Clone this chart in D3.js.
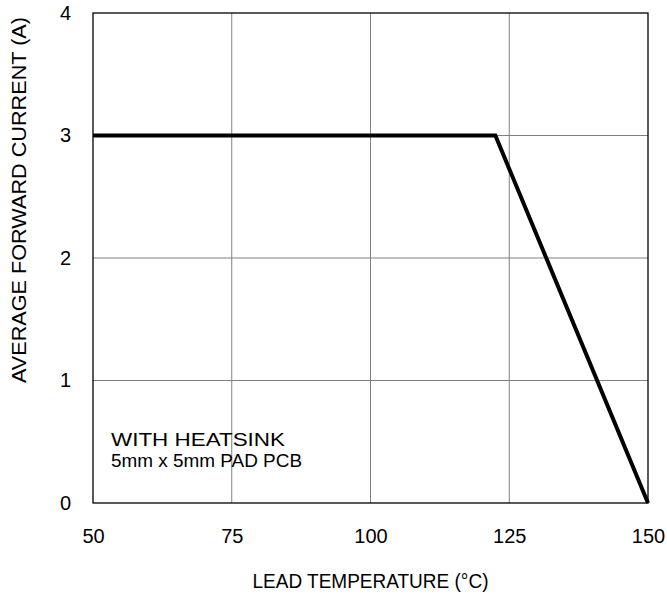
<!DOCTYPE html>
<html>
<head>
<meta charset="utf-8">
<script src="https://cdn.jsdelivr.net/npm/d3@7"></script>
<style>
  body { margin: 0; background: #fff; }
  text { font-family: "Liberation Sans", Arial, sans-serif; fill: #000; }
</style>
</head>
<body>
<div id="main"></div>
<script>
var margin = {top: 13, right: 19, bottom: 92, left: 93};
var width = 667 - margin.left - margin.right;
var height = 595 - margin.top - margin.bottom;

// derating curve
var tempC = [50, 122.5, 150];
var currentA = [3, 3, 0];
var xTicks = [50, 75, 100, 125, 150];
var yTicks = [0, 1, 2, 3, 4];
var note = ["WITH HEATSINK", "5mm x 5mm PAD PCB"];
var noteLen = [174, 191];

var svg = d3.select("#main")
  .append("svg")
  .attr("width", 667)
  .attr("height", 595)
  .append("g")
  .attr("transform", "translate(" + margin.left + "," + margin.top + ")");

var x = d3.scaleLinear().domain([50, 150]).range([0, width]);
var y = d3.scaleLinear().domain([0, 4]).range([height, 0]);

// grid
svg.selectAll(".vgrid")
  .data(xTicks.slice(1, -1))
  .enter()
  .append("line")
  .attr("x1", d => x(d)).attr("x2", d => x(d))
  .attr("y1", 0).attr("y2", height)
  .style("stroke", "#808080")
  .style("stroke-width", 1);

svg.selectAll(".hgrid")
  .data(yTicks.slice(1, -1))
  .enter()
  .append("line")
  .attr("x1", 0).attr("x2", width)
  .attr("y1", d => y(d)).attr("y2", d => y(d))
  .style("stroke", "#808080")
  .style("stroke-width", 1);

// frame
svg.append("rect")
  .attr("x", 0).attr("y", 0)
  .attr("width", width).attr("height", height)
  .style("fill", "none")
  .style("stroke", "#000")
  .style("stroke-width", 1.3);

// axes (labels only)
var xAxis = svg.append("g")
  .attr("transform", "translate(0," + height + ")")
  .call(d3.axisBottom(x).tickValues(xTicks).tickFormat(d3.format("d")).tickSize(0).tickPadding(26));
xAxis.select(".domain").remove();
xAxis.selectAll("text").style("font-size", "20px").style("font-family", "Liberation Sans, Arial, sans-serif");

var yAxis = svg.append("g")
  .call(d3.axisLeft(y).tickValues(yTicks).tickFormat(d3.format("d")).tickSize(0).tickPadding(22));
yAxis.select(".domain").remove();
yAxis.selectAll("text").style("font-size", "20px").style("font-family", "Liberation Sans, Arial, sans-serif");

// curve
svg.append("path")
  .datum(tempC.map((t, i) => [t, currentA[i]]))
  .attr("d", d3.line().x(d => x(d[0])).y(d => y(d[1])))
  .style("fill", "none")
  .style("stroke", "#000")
  .style("stroke-width", 4)
  .style("stroke-linejoin", "miter");

// annotation
svg.selectAll(".note")
  .data(note)
  .enter()
  .append("text")
  .attr("x", 18)
  .attr("y", (d, i) => 433 + i * 20.5)
  .attr("textLength", (d, i) => noteLen[i])
  .attr("lengthAdjust", "spacingAndGlyphs")
  .style("font-size", "18px")
  .text(d => d);

// axis titles
svg.append("text")
  .attr("x", width / 2)
  .attr("y", height + 85)
  .attr("textLength", 236)
  .attr("lengthAdjust", "spacingAndGlyphs")
  .style("text-anchor", "middle")
  .style("font-size", "20px")
  .text("LEAD TEMPERATURE (°C)");

svg.append("text")
  .attr("transform", "translate(" + (-67) + "," + (200 - margin.top) + ") rotate(-90)")
  .attr("textLength", 366)
  .attr("lengthAdjust", "spacingAndGlyphs")
  .style("text-anchor", "middle")
  .style("font-size", "21px")
  .text("AVERAGE FORWARD CURRENT (A)");
</script>
</body>
</html>
